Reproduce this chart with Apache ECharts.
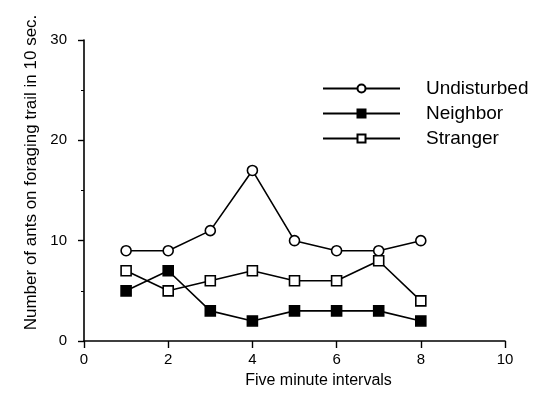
<!DOCTYPE html>
<html>
<head>
<meta charset="utf-8">
<script src="https://cdn.jsdelivr.net/npm/echarts@6/dist/echarts.min.js"></script>
<style>html,body{margin:0;padding:0;background:#fff;}#c{width:534px;height:395px;}</style>
</head>
<body>
<div id="c"></div>
<script>
var intervals = [1, 2, 3, 4, 5, 6, 7, 8];
var undisturbed = [9, 9, 11, 17, 10, 9, 9, 10];
var neighbor = [5, 7, 3, 2, 3, 3, 3, 2];
var stranger = [7, 5, 6, 7, 6, 6, 8, 4];
var seriesNames = ['Undisturbed', 'Neighbor', 'Stranger'];
var xTicks = [0, 2, 4, 6, 8, 10];
var yTicks = [0, 10, 20, 30];

function pairs(vals) { return intervals.map(function (x, i) { return [x, vals[i]]; }); }

var FONT = 'Liberation Sans';
var chart = echarts.init(document.getElementById('c'), null, { renderer: 'canvas' });

function mkSeries(name, vals, symbol, fill) {
  return {
    name: name, type: 'line', data: pairs(vals),
    symbol: symbol, symbolSize: 10,
    showSymbol: true,
    lineStyle: { color: '#000', width: 1.6 },
    itemStyle: { color: fill, borderColor: '#000', borderWidth: 1.6 },
    emphasis: { disabled: true },
    animation: false
  };
}

chart.setOption({
  animation: false,
  grid: { left: 84, right: 29, top: 40, bottom: 54 },
  legend: {
    orient: 'vertical', left: 322, top: 79, padding: 0,
    itemWidth: 77, itemHeight: 10, itemGap: 6,
    data: seriesNames,
    textStyle: { fontFamily: FONT, fontSize: 19, color: '#000', padding: [0, 0, 0, 21] }
  },
  xAxis: {
    type: 'value', min: xTicks[0], max: xTicks[xTicks.length - 1], interval: 2,
    name: 'Five minute intervals', nameLocation: 'middle', nameGap: 32,
    nameTextStyle: { fontFamily: FONT, fontSize: 16, color: '#000', padding: [0, 0, 0, 48] },
    axisLine: { lineStyle: { color: '#000', width: 1.6 } },
    axisTick: { inside: false, length: 7, lineStyle: { color: '#000', width: 1.4 } },
    axisLabel: { fontFamily: FONT, fontSize: 15, color: '#000', margin: 11 },
    splitLine: { show: false }
  },
  yAxis: {
    type: 'value', min: yTicks[0], max: yTicks[yTicks.length - 1], interval: 10,
    name: 'Number of ants on foraging trail in 10 sec.', nameLocation: 'middle', nameGap: 43,
    nameTextStyle: { fontFamily: FONT, fontSize: 17, color: '#000', padding: [0, 0, 0, 36] },
    axisLine: { lineStyle: { color: '#000', width: 1.6 } },
    axisTick: { inside: false, length: 6, lineStyle: { color: '#000', width: 1.4 } },
    minorTick: { show: true, splitNumber: 2, length: 3, lineStyle: { color: '#000', width: 1 } },
    axisLabel: { fontFamily: FONT, fontSize: 15, color: '#000', margin: 17 },
    splitLine: { show: false }
  },
  series: [
    mkSeries(seriesNames[0], undisturbed, 'circle', '#fff'),
    mkSeries(seriesNames[1], neighbor, 'rect', '#000'),
    mkSeries(seriesNames[2], stranger, 'rect', '#fff')
  ]
});
</script>
</body>
</html>
